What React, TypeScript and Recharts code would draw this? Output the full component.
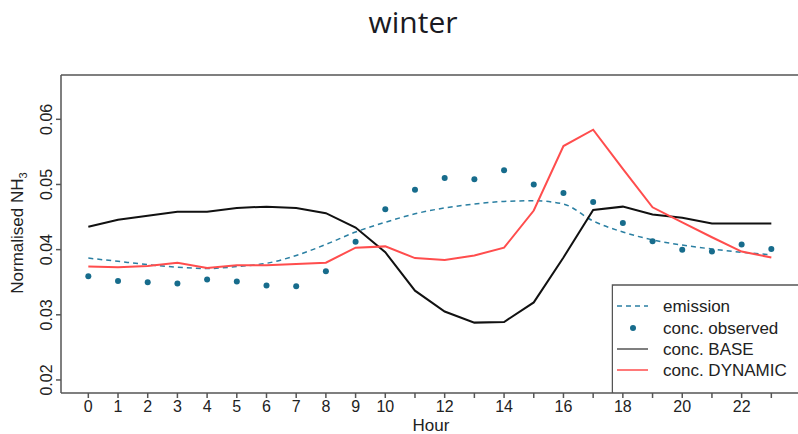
import { ComposedChart, Line, XAxis, YAxis, ReferenceLine, Customized } from 'recharts'

const hours = [0, 1, 2, 3, 4, 5, 6, 7, 8, 9, 10, 11, 12, 13, 14, 15, 16, 17, 18, 19, 20, 21, 22, 23]

const emission = [
  0.0387, 0.0382, 0.0377, 0.0373, 0.0371, 0.0374, 0.0379, 0.0391, 0.0408, 0.0427, 0.0442, 0.0455,
  0.0464, 0.047, 0.0474, 0.0475, 0.047, 0.0444, 0.0427, 0.0415, 0.0407, 0.0401, 0.0396, 0.0392,
]
const observed = [
  0.0359, 0.0352, 0.035, 0.0348, 0.0354, 0.0351, 0.0345, 0.0344, 0.0367, 0.0412, 0.0462, 0.0492,
  0.051, 0.0508, 0.0522, 0.05, 0.0487, 0.0473, 0.0441, 0.0413, 0.04, 0.0397, 0.0408, 0.0401,
]
const base = [
  0.0435, 0.0446, 0.0452, 0.0458, 0.0458, 0.0464, 0.0466, 0.0464, 0.0456, 0.0434, 0.0396, 0.0337,
  0.0305, 0.0288, 0.0289, 0.0319, 0.0388, 0.0461, 0.0466, 0.0454, 0.0449, 0.044, 0.044, 0.044,
]
const dynamic = [
  0.0374, 0.0373, 0.0375, 0.038, 0.0372, 0.0376, 0.0376, 0.0378, 0.038, 0.0403, 0.0405, 0.0387,
  0.0384, 0.0391, 0.0403, 0.046, 0.0559, 0.0584, 0.0524, 0.0465, 0.0442, 0.0419, 0.0397, 0.0388,
]

const xTicks = hours
const labelledHours = [0, 1, 2, 3, 4, 5, 6, 7, 8, 9, 10, 12, 14, 16, 18, 20, 22]
const yTicks = [0.02, 0.03, 0.04, 0.05, 0.06]

const data = hours.map((h, i) => ({
  hour: h,
  emission: emission[i],
  observed: observed[i],
  base: base[i],
  dynamic: dynamic[i],
}))

const FONT = '"Liberation Sans", Arial, sans-serif'
const AXIS = '#555'
const TEAL = '#2a7fa2'
const DOT = '#176c8c'
const RED = '#ff4d4d'

function XTick({ x, payload }: any) {
  if (!labelledHours.includes(payload.value)) return null
  return (
    <text x={x} y={412} textAnchor="middle" fontSize={16} fontFamily={FONT} fill="#222">
      {payload.value}
    </text>
  )
}

function YTick({ y, payload }: any) {
  return (
    <text
      x={52}
      y={y}
      transform={`rotate(-90, 52, ${y})`}
      textAnchor="middle"
      fontSize={16}
      fontFamily={FONT}
      fill="#222"
    >
      {payload.value.toFixed(2)}
    </text>
  )
}

function Overlay() {
  const rows = [306, 328, 349, 370]
  return (
    <g>
      <text x={413} y={33} textAnchor="middle" fontSize={30} fontFamily='"Open Sans", sans-serif' fill="#1a1a22">
        winter
      </text>
      <text x={431} y={431} textAnchor="middle" fontSize={17} fontFamily={FONT} fill="#222">
        Hour
      </text>
      <text
        x={23}
        y={233}
        transform="rotate(-90, 23, 233)"
        textAnchor="middle"
        fontSize={17}
        fontFamily={FONT}
        fill="#222"
      >
        Normalised NH<tspan fontSize={11} dy={4}>3</tspan>
      </text>
      <path d="M820,285 H612.5 V393" fill="#fff" stroke={AXIS} strokeWidth={1.5} />
      <rect x={613} y={286} width={200} height={106} fill="#fff" />
      <line x1={617} x2={648} y1={rows[0]} y2={rows[0]} stroke={TEAL} strokeWidth={1.5} strokeDasharray="5 4" />
      <circle cx={633} cy={rows[1]} r={3} fill={DOT} />
      <line x1={617} x2={648} y1={rows[2]} y2={rows[2]} stroke="#555" strokeWidth={1.5} />
      <line x1={617} x2={648} y1={rows[3]} y2={rows[3]} stroke={RED} strokeWidth={1.5} />
      {['emission', 'conc. observed', 'conc. BASE', 'conc. DYNAMIC'].map((t, i) => (
        <text key={t} x={663} y={rows[i] + 6} fontSize={17} fontFamily={FONT} fill="#222">
          {t}
        </text>
      ))}
    </g>
  )
}

export default function App() {
  return (
    <div style={{ position: 'absolute', left: 0, top: 0, width: 798, height: 434, overflow: 'hidden', background: '#fff' }}>
      <ComposedChart width={804} height={434} data={data} margin={{ top: 75, right: 0, left: 0, bottom: 0 }}>
        <XAxis
          dataKey="hour"
          type="number"
          domain={[-0.92, 24.1]}
          ticks={xTicks}
          interval={0}
          tick={<XTick />}
          tickSize={5}
          height={41}
          axisLine={{ stroke: AXIS, strokeWidth: 1.5 }}
          tickLine={{ stroke: AXIS, strokeWidth: 1.5 }}
          allowDataOverflow
        />
        <YAxis
          type="number"
          domain={[0.018, 0.0668]}
          ticks={yTicks}
          tick={<YTick />}
          tickSize={5}
          width={61}
          axisLine={{ stroke: AXIS, strokeWidth: 1.5 }}
          tickLine={{ stroke: AXIS, strokeWidth: 1.5 }}
          allowDataOverflow
        />
        <ReferenceLine y={0.0668} stroke={AXIS} strokeWidth={1.5} />
        <Line
          dataKey="emission"
          type="monotone"
          stroke={TEAL}
          strokeWidth={1.5}
          strokeDasharray="5 4"
          dot={false}
          isAnimationActive={false}
        />
        <Line
          dataKey="base"
          type="linear"
          stroke="#111"
          strokeWidth={2}
          dot={false}
          isAnimationActive={false}
        />
        <Line
          dataKey="dynamic"
          type="linear"
          stroke={RED}
          strokeWidth={2}
          dot={false}
          isAnimationActive={false}
        />
        <Line
          dataKey="observed"
          stroke="none"
          dot={{ r: 3, fill: DOT, stroke: 'none' }}
          isAnimationActive={false}
        />
        <Customized component={<Overlay />} />
      </ComposedChart>
    </div>
  )
}
